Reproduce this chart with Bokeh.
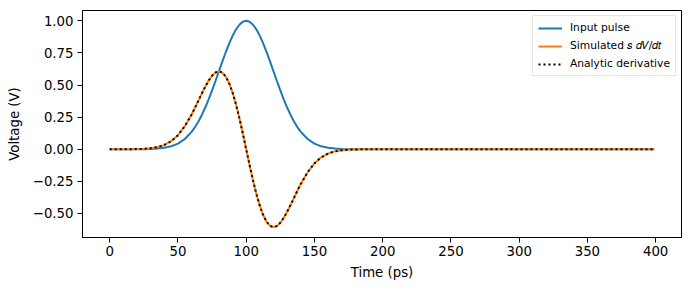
from bokeh.plotting import figure
from bokeh.models import Range1d, FixedTicker, Legend, LegendItem
from bokeh.embed import file_html
from bokeh.resources import INLINE

# Data (time in ps, voltage in V)
time_ps = [0, 5, 10, 15, 20, 25, 30, 35, 40, 45, 50, 55, 60, 62.5, 65, 67.5, 70, 72.5, 75, 77.5,
           80, 82.5, 85, 87.5, 90, 92.5, 95, 97.5, 100, 102.5, 105, 107.5, 110, 112.5, 115,
           117.5, 120, 122.5, 125, 127.5, 130, 132.5, 135, 137.5, 140, 145, 150, 155, 160, 165,
           170, 175, 180, 185, 190, 195, 200, 399]
input_pulse = [0.0, 0.0, 0.0, 0.0, 0.0003, 0.0009, 0.0022, 0.0051, 0.0111, 0.0228, 0.0439,
               0.0796, 0.1353, 0.1724, 0.2163, 0.2671, 0.3247, 0.3886, 0.4578, 0.5311,
               0.6065, 0.6819, 0.7548, 0.8226, 0.8825, 0.9321, 0.9692, 0.9922, 1.0, 0.9922,
               0.9692, 0.9321, 0.8825, 0.8226, 0.7548, 0.6819, 0.6065, 0.5311, 0.4578, 0.3886,
               0.3247, 0.2671, 0.2163, 0.1724, 0.1353, 0.0796, 0.0439, 0.0228, 0.0111, 0.0051,
               0.0022, 0.0009, 0.0003, 0.0, 0.0, 0.0, 0.0, 0.0]
simulated = [0.0, 0.0, 0.0, 0.0005, 0.0013, 0.0034, 0.0077, 0.0166, 0.0333, 0.0627, 0.1098,
             0.1791, 0.2707, 0.3233, 0.3785, 0.4340, 0.4870, 0.5343, 0.5723, 0.5975,
             0.6065, 0.5967, 0.5661, 0.5141, 0.4412, 0.3495, 0.2423, 0.1240, 0.0, -0.1240,
             -0.2423, -0.3495, -0.4412, -0.5141, -0.5661, -0.5967, -0.6065, -0.5975, -0.5723,
             -0.5343, -0.4870, -0.4340, -0.3785, -0.3233, -0.2707, -0.1791, -0.1098, -0.0627,
             -0.0333, -0.0166, -0.0077, -0.0034, -0.0013, -0.0005, 0.0, 0.0, 0.0, 0.0]
analytic = [0.0, 0.0, 0.0, 0.0005, 0.0013, 0.0034, 0.0077, 0.0166, 0.0333, 0.0627, 0.1098,
            0.1791, 0.2707, 0.3233, 0.3785, 0.4340, 0.4870, 0.5343, 0.5723, 0.5975,
            0.6065, 0.5967, 0.5661, 0.5141, 0.4412, 0.3495, 0.2423, 0.1240, 0.0, -0.1240,
            -0.2423, -0.3495, -0.4412, -0.5141, -0.5661, -0.5967, -0.6065, -0.5975, -0.5723,
            -0.5343, -0.4870, -0.4340, -0.3785, -0.3233, -0.2707, -0.1791, -0.1098, -0.0627,
            -0.0333, -0.0166, -0.0077, -0.0034, -0.0013, -0.0005, 0.0, 0.0, 0.0, 0.0]
x_ticks = [0, 50, 100, 150, 200, 250, 300, 350, 400]
y_ticks = [-0.5, -0.25, 0.0, 0.25, 0.5, 0.75, 1.0]
y_tick_labels = ["\u22120.50", "\u22120.25", "0.00", "0.25", "0.50", "0.75", "1.00"]
series_labels = ["Input pulse", "Simulated \U0001D460 \U0001D451\U0001D449/\U0001D451\U0001D461", "Analytic derivative"]

FONT = "DejaVu Sans"

p = figure(width=690, height=290, output_backend="svg", toolbar_location=None,
           x_range=Range1d(-19.95, 418.95), y_range=Range1d(-0.687, 1.080),
           min_border_left=82, min_border_right=9, min_border_top=10, min_border_bottom=53)
p.background_fill_color = "white"
p.border_fill_color = "white"
p.outline_line_color = "black"
p.outline_line_width = 1
p.xgrid.visible = False
p.ygrid.visible = False

r1 = p.line(time_ps, input_pulse, line_color="#1f77b4", line_width=2)
r2 = p.line(time_ps, simulated, line_color="#ff7f0e", line_width=2)
r3 = p.line(time_ps, analytic, line_color="black", line_width=2, line_dash="2 3")

for ax in (p.xaxis[0], p.yaxis[0]):
    ax.axis_line_color = "black"
    ax.major_tick_line_color = "black"
    ax.major_tick_out = 5
    ax.major_tick_in = 0
    ax.minor_tick_line_color = None
    ax.major_label_text_font = FONT
    ax.major_label_text_font_size = "13.3px"
    ax.major_label_text_color = "black"
    ax.axis_label_text_font = FONT
    ax.axis_label_text_font_size = "13.3px"
    ax.axis_label_text_font_style = "normal"
    ax.axis_label_text_color = "black"

p.xaxis.ticker = FixedTicker(ticks=x_ticks)
p.yaxis.ticker = FixedTicker(ticks=y_ticks)
p.yaxis.major_label_overrides = {t: l for t, l in zip(y_ticks, y_tick_labels)}
p.xaxis.axis_label = "Time (ps)"
p.yaxis.axis_label = "Voltage (V)"
p.xaxis.major_label_standoff = 3
p.yaxis.major_label_standoff = 4
p.xaxis.axis_label_standoff = 6
p.yaxis.axis_label_standoff = 8

legend = Legend(items=[LegendItem(label=series_labels[0], renderers=[r1]),
                       LegendItem(label=series_labels[1], renderers=[r2]),
                       LegendItem(label=series_labels[2], renderers=[r3])],
                location="top_right")
legend.margin = 5
legend.padding = 5
legend.spacing = 5
legend.glyph_width = 24
legend.glyph_height = 12
legend.label_height = 12
legend.label_standoff = 8
legend.label_text_font = FONT
legend.label_text_font_size = "10.7px"
legend.label_text_color = "black"
legend.border_line_color = "#cccccc"
legend.border_line_width = 1
legend.background_fill_color = "white"
legend.background_fill_alpha = 0.8
p.add_layout(legend)

open("out.html", "w").write(file_html(p, INLINE))
